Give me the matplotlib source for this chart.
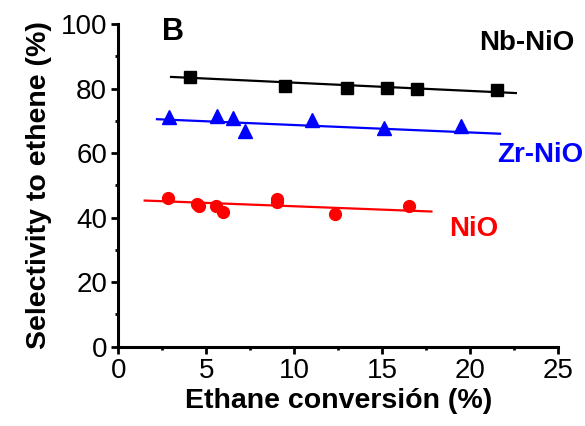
import matplotlib
matplotlib.use("Agg")
import matplotlib.pyplot as plt
from matplotlib.ticker import MultipleLocator

# ---- data ----
nb_x = [4.1, 9.5, 13.0, 15.3, 17.0, 21.5]
nb_y = [83.5, 80.9, 80.3, 80.3, 79.9, 79.4]
nb_fit_x = [3.0, 22.6]
nb_fit_y = [83.6, 78.6]

zr_x = [2.9, 5.6, 6.5, 7.2, 11.0, 15.1, 19.5]
zr_y = [71.3, 71.6, 70.8, 67.0, 70.1, 67.7, 68.4]
zr_fit_x = [2.2, 21.7]
zr_fit_y = [70.5, 66.0]

nio_x = [2.85, 4.5, 4.6, 5.55, 5.95, 9.0, 9.0, 12.3, 16.55]
nio_y = [46.0, 44.3, 43.5, 43.7, 41.7, 45.7, 44.9, 41.1, 43.6]
nio_fit_x = [1.5, 17.8]
nio_fit_y = [45.3, 41.9]

xticks = [0, 5, 10, 15, 20, 25]
yticks = [0, 20, 40, 60, 80, 100]

plt.rcParams['font.family'] = ['Liberation Sans', 'DejaVu Sans']

fig = plt.figure(figsize=(5.85, 4.26), dpi=100)
ax = fig.add_axes([0.2022, 0.186, 0.7518, 0.7577])

ax.plot(nb_fit_x, nb_fit_y, color='black', lw=1.6)
ax.plot(nb_x, nb_y, 's', color='black', ms=8, mec='black')
ax.plot(zr_fit_x, zr_fit_y, color='#0000ff', lw=1.6)
ax.plot(zr_x, zr_y, '^', color='#0000ff', ms=9.5)
ax.plot(nio_fit_x, nio_fit_y, color='#ff0000', lw=1.6)
ax.plot(nio_x, nio_y, 'o', color='#ff0000', ms=8.5)

ax.set_xlim(0, 25)
ax.set_ylim(0, 100)
ax.set_xticks(xticks)
ax.set_yticks(yticks)
ax.xaxis.set_minor_locator(MultipleLocator(2.5))
ax.yaxis.set_minor_locator(MultipleLocator(10))

for s in ['top', 'right']:
    ax.spines[s].set_visible(False)
for s in ['left', 'bottom']:
    ax.spines[s].set_linewidth(2.2)

ax.tick_params(which='major', direction='out', length=5, width=2, pad=3, labelsize=20)
ax.tick_params(which='minor', direction='out', length=2.5, width=2)

ax.set_xlabel("Ethane conversión (%)", fontsize=20.5, fontweight='bold', labelpad=3)
ax.set_ylabel("Selectivity to ethene (%)", fontsize=20.5, fontweight='bold', labelpad=6)

ax.text(3.1, 97.5, "B", fontsize=22, fontweight='bold', ha='center', va='center')
ax.text(25.9, 94.0, "Nb-NiO", fontsize=20, fontweight='bold', ha='right', va='center',
        color='black', clip_on=False)
ax.text(26.45, 59.3, "Zr-NiO", fontsize=20, fontweight='bold', ha='right', va='center',
        color='#0000ff', clip_on=False)
ax.text(20.2, 36.4, "NiO", fontsize=20, fontweight='bold', ha='center', va='center', color='#ff0000')

fig.savefig("out.png", dpi=100)
